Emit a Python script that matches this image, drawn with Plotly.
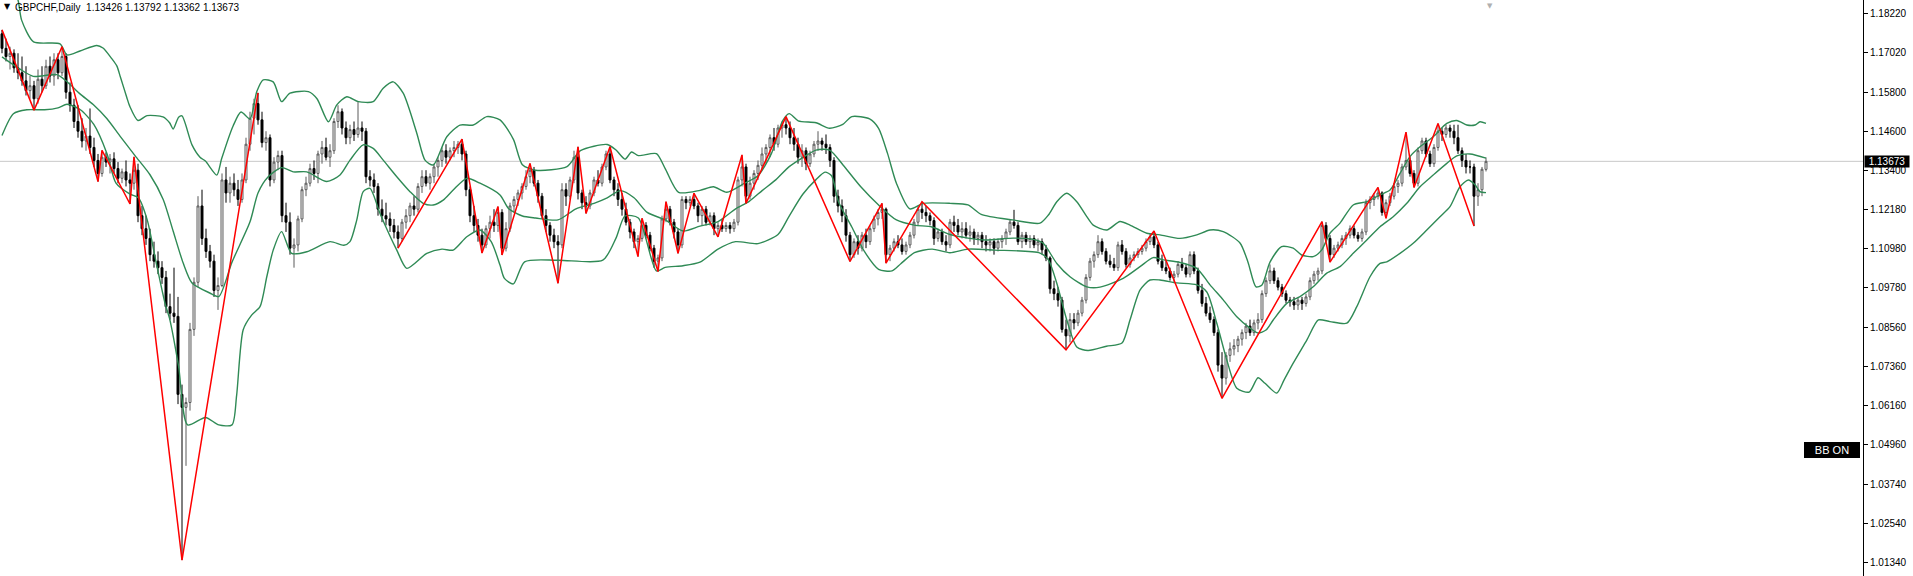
import plotly.graph_objects as go

symbol = "GBPCHF,Daily"

open_ = [
1.1760,1.1715,1.1690,1.1700,1.1655,1.1640,1.1615,1.1585,1.1600,1.1560,
1.1620,1.1600,1.1660,1.1630,1.1680,1.1640,1.1690,1.1580,1.1540,1.1490,
1.1460,1.1430,1.1445,1.1410,1.1370,1.1330,1.1380,1.1365,1.1375,1.1345,
1.1315,1.1335,1.1310,1.1300,1.1340,1.1200,1.1160,1.1130,1.1080,1.1060,
1.1040,1.1010,1.0920,1.0900,1.0890,1.0650,1.0610,1.0625,1.0850,1.0995,
1.1230,1.1130,1.1090,1.1060,1.0970,1.0985,1.1310,1.1270,1.1300,1.1280,
1.1250,1.1310,1.1420,1.1500,1.1545,1.1495,1.1425,1.1440,1.1310,1.1365,
1.1385,1.1200,1.1180,1.1100,1.1110,1.1190,1.1280,1.1300,1.1345,1.1330,
1.1390,1.1410,1.1380,1.1400,1.1490,1.1520,1.1470,1.1440,1.1465,1.1450,
1.1470,1.1460,1.1320,1.1310,1.1290,1.1220,1.1200,1.1190,1.1170,1.1150,
1.1130,1.1180,1.1200,1.1230,1.1220,1.1290,1.1320,1.1300,1.1320,1.1350,
1.1370,1.1400,1.1380,1.1400,1.1410,1.1420,1.1390,1.1280,1.1200,1.1170,
1.1140,1.1110,1.1160,1.1180,1.1170,1.1210,1.1100,1.1160,1.1230,1.1250,
1.1270,1.1290,1.1320,1.1340,1.1300,1.1260,1.1200,1.1170,1.1140,1.1120,
1.1110,1.1280,1.1260,1.1310,1.1380,1.1270,1.1240,1.1230,1.1270,1.1310,
1.1300,1.1350,1.1390,1.1310,1.1280,1.1250,1.1220,1.1180,1.1150,1.1120,
1.1130,1.1170,1.1140,1.1100,1.1060,1.1070,1.1190,1.1220,1.1180,1.1150,
1.1110,1.1250,1.1240,1.1250,1.1230,1.1200,1.1220,1.1180,1.1200,1.1160,
1.1170,1.1160,1.1170,1.1160,1.1180,1.1310,1.1350,1.1260,1.1300,1.1330,
1.1355,1.1390,1.1410,1.1440,1.1420,1.1470,1.1480,1.1470,1.1440,1.1420,
1.1380,1.1400,1.1360,1.1390,1.1420,1.1430,1.1420,1.1410,1.1370,1.1260,
1.1230,1.1200,1.1140,1.1080,1.1120,1.1100,1.1140,1.1120,1.1160,1.1190,
1.1210,1.1220,1.1080,1.1100,1.1120,1.1110,1.1090,1.1110,1.1140,1.1180,
1.1220,1.1210,1.1200,1.1185,1.1130,1.1150,1.1120,1.1110,1.1180,1.1170,
1.1150,1.1160,1.1140,1.1150,1.1130,1.1140,1.1120,1.1110,1.1120,1.1100,
1.1120,1.1130,1.1150,1.1180,1.1170,1.1120,1.1140,1.1120,1.1130,1.1110,
1.1120,1.1095,1.1070,1.0975,1.0960,1.0940,1.0850,1.0830,1.0880,1.0870,
1.0900,1.0940,1.1010,1.1060,1.1080,1.1120,1.1090,1.1060,1.1050,1.1040,
1.1110,1.1090,1.1050,1.1070,1.1080,1.1090,1.1100,1.1120,1.1135,1.1110,
1.1060,1.1040,1.1030,1.1010,1.1020,1.1050,1.1040,1.1020,1.1080,1.1030,
1.0970,1.0930,1.0900,1.0880,1.0840,1.0740,1.0700,1.0770,1.0790,1.0800,
1.0820,1.0840,1.0860,1.0840,1.0870,1.0880,1.0960,1.1000,1.1030,1.1000,
1.0980,1.0960,1.0940,1.0935,1.0925,1.0940,1.0930,1.0950,1.1000,1.1020,
1.1030,1.1170,1.1130,1.1080,1.1100,1.1110,1.1130,1.1140,1.1160,1.1140,
1.1130,1.1150,1.1240,1.1250,1.1260,1.1270,1.1210,1.1240,1.1260,1.1290,
1.1300,1.1350,1.1370,1.1330,1.1300,1.1400,1.1430,1.1390,1.1360,1.1410,
1.1460,1.1450,1.1470,1.1460,1.1440,1.1400,1.1370,1.1350,1.1350,1.1260,
1.1280,1.13426]

high = [
1.1772,1.1745,1.1720,1.1712,1.1700,1.1690,1.1660,1.1630,1.1615,1.1650,
1.1660,1.1680,1.1690,1.1700,1.1700,1.1720,1.1700,1.1610,1.1560,1.1540,
1.1500,1.1470,1.1530,1.1440,1.1390,1.1401,1.1395,1.1390,1.1395,1.1365,
1.1345,1.1370,1.1330,1.1381,1.1360,1.1230,1.1200,1.1160,1.1120,1.1090,
1.1060,1.1030,1.0960,1.1040,1.0950,1.0680,1.0640,1.0870,1.1010,1.1260,
1.1280,1.1160,1.1110,1.1080,1.1010,1.1330,1.1350,1.1320,1.1330,1.1310,
1.1330,1.1440,1.1520,1.1560,1.1578,1.1520,1.1460,1.1450,1.1380,1.1400,
1.1400,1.1240,1.1210,1.1130,1.1200,1.1290,1.1320,1.1360,1.1370,1.1400,
1.1430,1.1440,1.1420,1.1500,1.1540,1.1530,1.1490,1.1480,1.1490,1.1550,
1.1490,1.1470,1.1340,1.1330,1.1300,1.1250,1.1240,1.1210,1.1190,1.1170,
1.1190,1.1220,1.1240,1.1260,1.1300,1.1340,1.1340,1.1330,1.1360,1.1380,
1.1410,1.1420,1.1410,1.1430,1.1430,1.1436,1.1400,1.1290,1.1230,1.1190,
1.1160,1.1170,1.1200,1.1220,1.1228,1.1220,1.1180,1.1240,1.1260,1.1280,
1.1300,1.1340,1.1361,1.1350,1.1310,1.1270,1.1220,1.1180,1.1160,1.1140,
1.1300,1.1300,1.1320,1.1400,1.1412,1.1280,1.1260,1.1280,1.1320,1.1340,
1.1360,1.1400,1.1412,1.1320,1.1300,1.1270,1.1240,1.1190,1.1160,1.1140,
1.1192,1.1180,1.1150,1.1110,1.1080,1.1200,1.1243,1.1230,1.1190,1.1160,
1.1260,1.1260,1.1260,1.1269,1.1240,1.1230,1.1230,1.1210,1.1210,1.1180,
1.1190,1.1180,1.1180,1.1190,1.1320,1.1387,1.1360,1.1320,1.1340,1.1370,
1.1410,1.1420,1.1450,1.1470,1.1480,1.1490,1.1505,1.1490,1.1470,1.1440,
1.1420,1.1410,1.1400,1.1430,1.1460,1.1440,1.1450,1.1420,1.1380,1.1280,
1.1250,1.1220,1.1150,1.1130,1.1140,1.1150,1.1160,1.1170,1.1200,1.1220,
1.1238,1.1225,1.1110,1.1130,1.1140,1.1130,1.1120,1.1150,1.1190,1.1230,
1.1243,1.1230,1.1210,1.1195,1.1160,1.1160,1.1140,1.1190,1.1200,1.1190,
1.1180,1.1180,1.1170,1.1160,1.1150,1.1150,1.1140,1.1130,1.1130,1.1130,
1.1140,1.1160,1.1190,1.1218,1.1180,1.1150,1.1150,1.1140,1.1140,1.1130,
1.1130,1.1110,1.1075,1.1000,1.0980,1.0950,1.0880,1.0900,1.0900,1.0910,
1.0950,1.1020,1.1070,1.1090,1.1140,1.1130,1.1100,1.1080,1.1070,1.1120,
1.1125,1.1100,1.1080,1.1090,1.1100,1.1110,1.1130,1.1145,1.1153,1.1120,
1.1080,1.1060,1.1040,1.1030,1.1060,1.1070,1.1050,1.1090,1.1090,1.1040,
1.0990,1.0950,1.0920,1.0890,1.0850,1.0780,1.0780,1.0810,1.0820,1.0830,
1.0850,1.0870,1.0880,1.0880,1.0900,1.0970,1.1010,1.1050,1.1040,1.1010,
1.0990,1.0970,1.0950,1.0950,1.0950,1.0950,1.0960,1.1010,1.1030,1.1040,
1.1182,1.1180,1.1140,1.1110,1.1120,1.1140,1.1150,1.1170,1.1170,1.1150,
1.1160,1.1250,1.1260,1.1270,1.1287,1.1275,1.1250,1.1270,1.1300,1.1310,
1.1360,1.1457,1.1380,1.1340,1.1410,1.1440,1.1440,1.1400,1.1420,1.1484,
1.1470,1.1480,1.1480,1.1480,1.1480,1.1410,1.1390,1.1370,1.1360,1.1300,
1.1350,1.13792]

low = [
1.1700,1.1675,1.1650,1.1640,1.1620,1.1600,1.1570,1.1560,1.1525,1.1545,
1.1580,1.1590,1.1610,1.1600,1.1620,1.1630,1.1560,1.1520,1.1470,1.1440,
1.1410,1.1400,1.1390,1.1350,1.1305,1.1320,1.1350,1.1330,1.1330,1.1300,
1.1300,1.1290,1.1236,1.1280,1.1180,1.1140,1.1110,1.1060,1.1040,1.1020,
1.0990,1.0900,1.0880,1.0870,1.0620,1.0140,1.0430,1.0600,1.0830,1.0980,
1.1110,1.1070,1.1040,1.0950,1.0910,1.0980,1.1240,1.1240,1.1260,1.1230,
1.1240,1.1300,1.1400,1.1450,1.1480,1.1410,1.1400,1.1290,1.1300,1.1340,
1.1180,1.1150,1.1080,1.1040,1.1090,1.1180,1.1260,1.1290,1.1310,1.1300,
1.1360,1.1370,1.1350,1.1390,1.1470,1.1450,1.1420,1.1420,1.1430,1.1440,
1.1430,1.1300,1.1290,1.1270,1.1200,1.1180,1.1170,1.1150,1.1130,1.1100,
1.1120,1.1160,1.1180,1.1200,1.1210,1.1270,1.1290,1.1280,1.1300,1.1320,
1.1350,1.1360,1.1370,1.1380,1.1390,1.1370,1.1260,1.1180,1.1150,1.1120,
1.1085,1.1100,1.1130,1.1150,1.1150,1.1079,1.1090,1.1150,1.1210,1.1230,
1.1250,1.1280,1.1300,1.1290,1.1240,1.1190,1.1150,1.1120,1.1100,1.0992,
1.1100,1.1230,1.1250,1.1300,1.1250,1.1220,1.1207,1.1220,1.1260,1.1290,
1.1290,1.1340,1.1300,1.1260,1.1230,1.1200,1.1170,1.1130,1.1100,1.1074,
1.1120,1.1130,1.1090,1.1040,1.1028,1.1060,1.1180,1.1170,1.1130,1.1084,
1.1100,1.1220,1.1230,1.1220,1.1180,1.1170,1.1170,1.1170,1.1140,1.1135,
1.1150,1.1150,1.1145,1.1150,1.1170,1.1290,1.1238,1.1250,1.1280,1.1310,
1.1340,1.1360,1.1380,1.1400,1.1410,1.1440,1.1450,1.1420,1.1400,1.1360,
1.1350,1.1340,1.1350,1.1380,1.1400,1.1400,1.1390,1.1350,1.1240,1.1210,
1.1180,1.1120,1.1059,1.1070,1.1080,1.1090,1.1100,1.1110,1.1150,1.1170,
1.1190,1.1054,1.1060,1.1090,1.1100,1.1080,1.1080,1.1100,1.1130,1.1170,
1.1190,1.1180,1.1170,1.1110,1.1120,1.1110,1.1090,1.1100,1.1150,1.1140,
1.1130,1.1130,1.1120,1.1110,1.1110,1.1100,1.1090,1.1090,1.1080,1.1090,
1.1100,1.1110,1.1140,1.1160,1.1110,1.1100,1.1110,1.1100,1.1100,1.1090,
1.1080,1.1060,1.0960,1.0940,1.0920,1.0840,1.0787,1.0810,1.0850,1.0860,
1.0890,1.0930,1.1000,1.1040,1.1070,1.1080,1.1050,1.1040,1.1030,1.1030,
1.1080,1.1040,1.1040,1.1060,1.1070,1.1080,1.1090,1.1110,1.1100,1.1050,
1.1030,1.1020,1.1000,1.0995,1.1010,1.1030,1.1010,1.1010,1.1020,1.0960,
1.0920,1.0890,1.0870,1.0830,1.0720,1.0638,1.0680,1.0750,1.0770,1.0780,
1.0800,1.0820,1.0830,1.0830,1.0850,1.0870,1.0950,1.0990,1.0990,1.0970,
1.0950,1.0930,1.0920,1.0910,1.0910,1.0910,1.0920,1.0940,1.0990,1.1000,
1.1020,1.1120,1.1057,1.1070,1.1090,1.1100,1.1110,1.1130,1.1130,1.1120,
1.1120,1.1140,1.1220,1.1230,1.1250,1.1200,1.1192,1.1230,1.1250,1.1270,
1.1290,1.1340,1.1320,1.1287,1.1290,1.1390,1.1380,1.1350,1.1350,1.1400,
1.1430,1.1440,1.1440,1.1420,1.1390,1.1350,1.1330,1.1330,1.1168,1.1230,
1.1260,1.13362]

close = [
1.1715,1.1690,1.1700,1.1655,1.1640,1.1615,1.1585,1.1600,1.1560,1.1620,
1.1600,1.1660,1.1630,1.1680,1.1640,1.1690,1.1580,1.1540,1.1490,1.1460,
1.1430,1.1445,1.1410,1.1370,1.1330,1.1380,1.1365,1.1375,1.1345,1.1315,
1.1335,1.1310,1.1300,1.1340,1.1200,1.1160,1.1130,1.1080,1.1060,1.1040,
1.1010,1.0920,1.0900,1.0890,1.0650,1.0610,1.0625,1.0850,1.0995,1.1230,
1.1130,1.1090,1.1060,1.0970,1.0985,1.1310,1.1270,1.1300,1.1280,1.1250,
1.1310,1.1420,1.1500,1.1545,1.1495,1.1425,1.1440,1.1310,1.1365,1.1385,
1.1200,1.1180,1.1100,1.1110,1.1190,1.1280,1.1300,1.1345,1.1330,1.1390,
1.1410,1.1380,1.1400,1.1490,1.1520,1.1470,1.1440,1.1465,1.1450,1.1470,
1.1460,1.1320,1.1310,1.1290,1.1220,1.1200,1.1190,1.1170,1.1150,1.1130,
1.1180,1.1200,1.1230,1.1220,1.1290,1.1320,1.1300,1.1320,1.1350,1.1370,
1.1400,1.1380,1.1400,1.1410,1.1420,1.1390,1.1280,1.1200,1.1170,1.1140,
1.1110,1.1160,1.1180,1.1170,1.1210,1.1100,1.1160,1.1230,1.1250,1.1270,
1.1290,1.1320,1.1340,1.1300,1.1260,1.1200,1.1170,1.1140,1.1120,1.1110,
1.1280,1.1260,1.1310,1.1380,1.1270,1.1240,1.1230,1.1270,1.1310,1.1300,
1.1350,1.1390,1.1310,1.1280,1.1250,1.1220,1.1180,1.1150,1.1120,1.1130,
1.1170,1.1140,1.1100,1.1060,1.1070,1.1190,1.1220,1.1180,1.1150,1.1110,
1.1250,1.1240,1.1250,1.1230,1.1200,1.1220,1.1180,1.1200,1.1160,1.1170,
1.1160,1.1170,1.1160,1.1180,1.1310,1.1350,1.1260,1.1300,1.1330,1.1355,
1.1390,1.1410,1.1440,1.1420,1.1470,1.1480,1.1470,1.1440,1.1420,1.1380,
1.1400,1.1360,1.1390,1.1420,1.1430,1.1420,1.1410,1.1370,1.1260,1.1230,
1.1200,1.1140,1.1080,1.1120,1.1100,1.1140,1.1120,1.1160,1.1190,1.1210,
1.1220,1.1080,1.1100,1.1120,1.1110,1.1090,1.1110,1.1140,1.1180,1.1220,
1.1210,1.1200,1.1185,1.1130,1.1150,1.1120,1.1110,1.1180,1.1170,1.1150,
1.1160,1.1140,1.1150,1.1130,1.1140,1.1120,1.1110,1.1120,1.1100,1.1120,
1.1130,1.1150,1.1180,1.1170,1.1120,1.1140,1.1120,1.1130,1.1110,1.1120,
1.1095,1.1070,1.0975,1.0960,1.0940,1.0850,1.0830,1.0880,1.0870,1.0900,
1.0940,1.1010,1.1060,1.1080,1.1120,1.1090,1.1060,1.1050,1.1040,1.1110,
1.1090,1.1050,1.1070,1.1080,1.1090,1.1100,1.1120,1.1135,1.1110,1.1060,
1.1040,1.1030,1.1010,1.1020,1.1050,1.1040,1.1020,1.1080,1.1030,1.0970,
1.0930,1.0900,1.0880,1.0840,1.0740,1.0700,1.0770,1.0790,1.0800,1.0820,
1.0840,1.0860,1.0840,1.0870,1.0880,1.0960,1.1000,1.1030,1.1000,1.0980,
1.0960,1.0940,1.0935,1.0925,1.0940,1.0930,1.0950,1.1000,1.1020,1.1030,
1.1170,1.1130,1.1080,1.1100,1.1110,1.1130,1.1140,1.1160,1.1140,1.1130,
1.1150,1.1240,1.1250,1.1260,1.1270,1.1210,1.1240,1.1260,1.1290,1.1300,
1.1350,1.1370,1.1330,1.1300,1.1400,1.1430,1.1390,1.1360,1.1410,1.1460,
1.1450,1.1470,1.1460,1.1440,1.1400,1.1370,1.1350,1.1350,1.1260,1.1280,
1.1343,1.13673]

bars = list(range(len(close)))

# Bollinger bands (bar position, price)
bb_upper_x = [0,4,4.9,7.9,14.5,16.25,19.5,23.7,25.25,27.4,28.7,29.6,31.2,31.9,34,36.25,40.25,41.9,42.8,44.15,45,47.5,49.5,50.85,53.7,54.9,57.8,59.75,62,63.7,65.3,67.8,69.9,72,76.6,78.75,81.6,83.7,86.2,89.1,92.8,95.3,97.8,100.3,103.7,105.75,107.8,111.2,114.5,117.8,121.2,124.5,127.85,130.1,133.4,141.25,144.6,151.3,153.5,155.75,157.4,159.1,163.6,165.8,169.15,174.5,177.85,181.2,185.65,189,192.35,195.15,196.8,199.05,203.5,206.9,210.2,212.45,216.9,219.15,221.4,223.6,226.95,230.3,237,241.5,244.8,252.6,259.5,261.6,263.7,266.2,268.7,271.2,272.8,276.2,279.5,282,286.2,289.5,294.5,298.7,302,305.3,309.5,311.5,313.5,315,317,319.9,322.8,324.9,327.8,329.9,332,334.5,337.8,341.2,344.5,347,349.5,352,354.5,357.8,361.2,363.7,366.2,368.25,369.5,371]
bb_upper = [1.1990,1.1864,1.1802,1.1735,1.1729,1.1695,1.1707,1.1724,1.1716,1.1684,1.1661,1.1627,1.1564,1.1538,1.1493,1.1508,1.1504,1.1486,1.1467,1.1503,1.1507,1.1418,1.1380,1.1368,1.1325,1.1375,1.1477,1.1519,1.1498,1.1582,1.1618,1.1612,1.1551,1.1577,1.1582,1.1560,1.1489,1.1541,1.1566,1.1551,1.1551,1.1592,1.1612,1.1577,1.1454,1.1371,1.1356,1.1443,1.1479,1.1479,1.1505,1.1495,1.1435,1.1357,1.1340,1.1351,1.1400,1.1419,1.1402,1.1374,1.1396,1.1385,1.1391,1.1345,1.1272,1.1278,1.1289,1.1272,1.1300,1.1323,1.1391,1.1492,1.1514,1.1492,1.1486,1.1469,1.1481,1.1505,1.1498,1.1469,1.1391,1.1300,1.1221,1.1238,1.1238,1.1233,1.1204,1.1187,1.1177,1.1202,1.1243,1.1269,1.1243,1.1197,1.1171,1.1156,1.1182,1.1171,1.1146,1.1141,1.1130,1.1141,1.1156,1.1151,1.1116,1.1057,1.0981,1.0987,1.1057,1.1105,1.1100,1.1079,1.1074,1.1094,1.1146,1.1177,1.1233,1.1243,1.1264,1.1279,1.1330,1.1382,1.1412,1.1443,1.1484,1.1493,1.1479,1.1479,1.1489,1.1484]

bb_mid_x = [0,4.5,7.8,13.7,16.2,19.5,22.8,26.2,29.5,33.25,37,40.3,42.8,45.3,47.5,51.95,54.2,57.5,62,64,66.5,69.9,72.8,76.2,81.2,84.5,87,90.3,92.8,95.3,98.7,102,105.3,107.8,110.3,112.8,116.2,119.5,124.5,126.7,130.1,133.4,139,143.5,148,151.3,154.6,158,161.3,165.8,170.25,174.5,179,183.4,186.8,190.1,193.5,196.8,200.2,203.5,206.9,210.2,214.7,219.15,223.6,228.1,232.5,237,241.5,245.9,252.8,257.8,260.3,263.7,267,271.2,274.5,280.3,284.5,287.8,290.3,294.5,298.7,302,305.3,308.7,312,314,316,317.8,321.2,324.5,327.8,331.2,334.5,337.8,341.2,344.5,347.8,351.2,354.5,357.8,361.2,363.7,367,371]
bb_mid = [1.1689,1.1651,1.1629,1.1634,1.1613,1.1575,1.1542,1.1499,1.1445,1.1385,1.1326,1.1250,1.1152,1.1054,1.0993,1.0962,1.0951,1.1057,1.1181,1.1270,1.1319,1.1348,1.1335,1.1335,1.1305,1.1325,1.1371,1.1418,1.1407,1.1371,1.1320,1.1274,1.1238,1.1233,1.1248,1.1279,1.1315,1.1300,1.1264,1.1221,1.1199,1.1193,1.1187,1.1221,1.1238,1.1255,1.1277,1.1255,1.1210,1.1187,1.1153,1.1168,1.1182,1.1221,1.1244,1.1278,1.1311,1.1351,1.1379,1.1402,1.1402,1.1357,1.1289,1.1233,1.1187,1.1171,1.1165,1.1142,1.1131,1.1125,1.1131,1.1127,1.1115,1.1053,1.1012,1.0981,1.0980,1.1007,1.1043,1.1071,1.1064,1.1056,1.1038,1.0987,1.0941,1.0889,1.0854,1.0839,1.0848,1.0879,1.0930,1.0951,1.0981,1.1023,1.1043,1.1084,1.1125,1.1166,1.1197,1.1238,1.1289,1.1325,1.1361,1.1384,1.1390,1.1377]

bb_lower_x = [0,2.85,6.2,10.65,14,16.25,19.6,22.95,26.25,28.5,31.9,34.1,36.3,38.6,40.8,41.9,44.15,46.4,50.85,54.2,57.5,58.65,60.3,62.4,64.5,66.2,67.8,69.9,72.4,76.2,82,85.45,87,88.7,90.3,92,94.5,98.7,101.2,106.2,110,112.8,116.2,119.5,122.3,124.5,125.6,127.85,130.65,139,150.2,153.5,155.75,159.1,163.6,165.8,170.25,174.5,179,183.4,189,194,196.8,200.2,203.5,205.75,207.4,209.1,212.45,215.8,219.15,222.5,224.7,228.1,232.5,237,241.5,248.15,259.5,261.6,263.7,266.2,268.7,271.5,276.1,280,282,284.5,287,289.5,293.7,298.7,301.2,303.7,306.2,308.7,311.8,314,315.75,318.7,320.5,322.8,326.2,329.1,332,336.2,338.7,342,344.5,346.2,349.5,352.8,356.2,359.5,362,364.5,366.6,368.25,369.5,371]
bb_lower = [1.1447,1.1514,1.1526,1.1526,1.1532,1.1543,1.1526,1.1481,1.1391,1.1300,1.1267,1.1255,1.1187,1.1052,1.0928,1.0883,1.0736,1.0556,1.0579,1.0556,1.0556,1.0646,1.0849,1.0894,1.0920,1.1012,1.1094,1.1151,1.1084,1.1089,1.1120,1.1109,1.1120,1.1187,1.1274,1.1284,1.1207,1.1094,1.1038,1.1084,1.1097,1.1094,1.1135,1.1156,1.1120,1.1048,1.1007,1.0990,1.1058,1.1063,1.1063,1.1131,1.1199,1.1193,1.1030,1.1041,1.1046,1.1057,1.1097,1.1120,1.1114,1.1142,1.1199,1.1266,1.1311,1.1334,1.1323,1.1244,1.1165,1.1086,1.1035,1.1030,1.1052,1.1086,1.1097,1.1086,1.1097,1.1094,1.1085,1.1064,1.0992,1.0879,1.0796,1.0785,1.0798,1.0808,1.0879,1.0971,1.1002,1.1002,1.0993,1.0987,1.0965,1.0869,1.0756,1.0669,1.0657,1.0701,1.0684,1.0654,1.0694,1.0746,1.0817,1.0879,1.0874,1.0869,1.0920,1.1012,1.1053,1.1058,1.1084,1.1115,1.1156,1.1197,1.1228,1.1289,1.1310,1.1295,1.1274,1.1271]

# ZigZag pivots (two drawn runs)
zz1_x = [0, 8, 15, 24, 25, 32, 33, 45, 64]
zz1_y = [1.1772, 1.1525, 1.1720, 1.1305, 1.1401, 1.1236, 1.1381, 1.0140, 1.1578]
zz2_x = [99, 115, 120, 124, 125, 132, 139, 144, 146, 152, 159, 160, 164, 166, 169, 173, 179, 185, 186, 196,
         212, 220, 221, 230, 266, 288, 305, 330, 332, 344, 346, 351, 353, 359, 368]
zz2_y = [1.1100, 1.1436, 1.1085, 1.1228, 1.1079, 1.1361, 1.0992, 1.1412, 1.1207, 1.1412, 1.1074, 1.1192, 1.1028,
         1.1243, 1.1084, 1.1269, 1.1135, 1.1387, 1.1238, 1.1505, 1.1059, 1.1238, 1.1054, 1.1243, 1.0787, 1.1153,
         1.0638, 1.1182, 1.1057, 1.1287, 1.1192, 1.1457, 1.1287, 1.1484, 1.1168]

y_ticks = [1.18220, 1.17020, 1.15800, 1.14600, 1.13400, 1.12180, 1.10980, 1.09780,
           1.08560, 1.07360, 1.06160, 1.04960, 1.03740, 1.02540, 1.01340]
y_range = [1.00909, 1.18639]
x_range = [-0.5, 465.25]

assert len(open_) == len(high) == len(low) == len(close)
assert len(bb_upper_x) == len(bb_upper) and len(bb_mid_x) == len(bb_mid) and len(bb_lower_x) == len(bb_lower)

FONT = "Liberation Sans, Arial, sans-serif"
GREEN = "#2f8a55"

fig = go.Figure()

band_line = dict(color=GREEN, width=1.4, shape="spline", smoothing=0.7)
for bx, by in [(bb_upper_x, bb_upper), (bb_mid_x, bb_mid), (bb_lower_x, bb_lower)]:
    fig.add_trace(go.Scatter(x=bx, y=by, mode="lines", line=band_line,
                             hoverinfo="skip", showlegend=False))

fig.add_trace(go.Candlestick(
    x=bars, open=open_, high=high, low=low, close=close,
    increasing=dict(line=dict(color="#5a5a5a", width=1), fillcolor="#ffffff"),
    decreasing=dict(line=dict(color="#000000", width=1), fillcolor="#000000"),
    whiskerwidth=0, showlegend=False))

for zx, zy in [(zz1_x, zz1_y), (zz2_x, zz2_y)]:
    fig.add_trace(go.Scatter(x=zx, y=zy, mode="lines",
                             line=dict(color="#ff0000", width=1.5),
                             hoverinfo="skip", showlegend=False))

last_o, last_h, last_l, last_c = open_[-1], high[-1], low[-1], close[-1]

fig.add_shape(type="line", xref="paper", x0=0, x1=1, yref="y", y0=last_c, y1=last_c,
              line=dict(color="#c8c8c8", width=1), layer="below")

annotations = [
    dict(text="\u25bc", xref="paper", yref="paper", x=0, y=1, xanchor="left", yanchor="top",
         xshift=2, yshift=0, showarrow=False, font=dict(family="DejaVu Sans", size=8, color="#000000")),
    dict(text=f"{symbol}  {last_o:.5f} {last_h:.5f} {last_l:.5f} {last_c:.5f}",
         xref="paper", yref="paper", x=0, y=1, xanchor="left", yanchor="top",
         xshift=13, yshift=0, showarrow=False, font=dict(family=FONT, size=10, color="#000000")),
    dict(text=f"{last_c:.5f}", xref="paper", yref="y", x=1, y=last_c, xanchor="left",
         yanchor="middle", xshift=1, showarrow=False, bgcolor="#000000", width=44, height=11,
         borderpad=0, font=dict(family=FONT, size=10, color="#ffffff")),
    dict(text="BB ON", xref="paper", yref="paper", x=0.9835, y=0.219, xanchor="center",
         yanchor="middle", showarrow=False, bgcolor="#000000", bordercolor="#000000",
         width=52, height=12, borderpad=1, font=dict(family=FONT, size=11, color="#ffffff")),
    dict(text="\u25bc", xref="x", yref="paper", x=len(close), y=1, xanchor="center",
         yanchor="top", yshift=0, showarrow=False,
         font=dict(family="DejaVu Sans", size=7, color="#b0b0b0")),
]

fig.update_layout(
    width=1913, height=576,
    margin=dict(l=0, r=50, t=0, b=0),
    paper_bgcolor="#ffffff", plot_bgcolor="#ffffff",
    annotations=annotations,
    showlegend=False,
    xaxis=dict(range=x_range, showgrid=False, zeroline=False, showticklabels=False,
               ticks="", showline=True, linecolor="#a0a0a0", linewidth=1, side="top",
               rangeslider=dict(visible=False), fixedrange=True),
    yaxis=dict(range=y_range, side="right", showgrid=False, zeroline=False,
               tickvals=y_ticks, ticktext=[f"{v:.5f}" for v in y_ticks],
               ticks="outside", ticklen=4, tickcolor="#000000", tickwidth=1,
               showline=True, linecolor="#000000", linewidth=1,
               tickfont=dict(family=FONT, size=10, color="#000000"), fixedrange=True),
)

fig.write_html("out.html",
               config={"displayModeBar": False, "staticPlot": True},
               post_script="document.body.style.margin='0';document.body.style.overflow='hidden';")
